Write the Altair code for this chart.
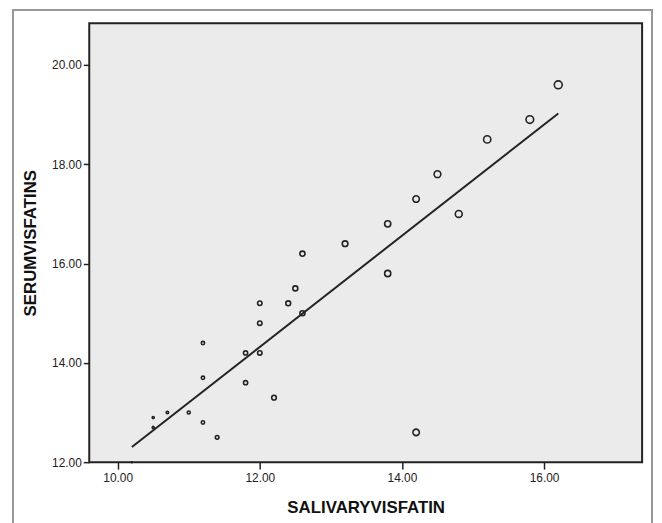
import altair as alt
import pandas as pd

salivary = [10.2, 10.5, 10.5, 10.7, 11.0, 11.2, 11.2, 11.2, 11.4, 11.8, 11.8,
            12.0, 12.0, 12.0, 12.2, 12.4, 12.5, 12.6, 12.6, 13.2, 13.8, 13.8,
            14.2, 14.2, 14.5, 14.8, 15.2, 15.8, 16.2]
serum = [12.0, 12.9, 12.7, 13.0, 13.0, 14.4, 13.7, 12.8, 12.5, 14.2, 13.6,
         14.2, 14.8, 15.2, 13.3, 15.2, 15.5, 15.0, 16.2, 16.4, 15.8, 16.8,
         17.3, 12.6, 17.8, 17.0, 18.5, 18.9, 19.6]
x_ticks = [10, 12, 14, 16]
y_ticks = [12, 14, 16, 18, 20]

df = pd.DataFrame({"SALIVARYVISFATIN": salivary, "SERUMVISFATINS": serum})

xscale = alt.Scale(domain=[9.6, 17.38], nice=False, zero=False)
yscale = alt.Scale(domain=[12, 20.84], nice=False, zero=False)

xaxis = alt.Axis(values=x_ticks, format=".2f", title="SALIVARYVISFATIN",
                 grid=False, domain=False, tickSize=7, tickWidth=1.5,
                 tickColor="#222", labelFont="Liberation Sans", labelFontSize=12,
                 labelColor="#222", labelPadding=4, titleFont="Liberation Sans",
                 titleFontSize=17, titleFontWeight="bold", titleColor="#111",
                 titlePadding=16)
yaxis = alt.Axis(values=y_ticks, format=".2f", title="SERUMVISFATINS",
                 grid=False, domain=False, tickSize=6, tickWidth=1.5,
                 tickColor="#222", labelFont="Liberation Sans", labelFontSize=12,
                 labelColor="#222", labelPadding=2, titleFont="Liberation Sans",
                 titleFontSize=17, titleFontWeight="bold", titleColor="#111",
                 titlePadding=12)

base = alt.Chart(df)

frame = base.mark_rect(fill=None, stroke="#999", strokeWidth=1.2).encode(
    x=alt.value(-77), x2=alt.value(568), y=alt.value(-13), y2=alt.value(520)
)

points = base.mark_point(filled=False, color="#222", strokeWidth=1.6, opacity=1).encode(
    x=alt.X("SALIVARYVISFATIN:Q", scale=xscale, axis=xaxis),
    y=alt.Y("SERUMVISFATINS:Q", scale=yscale, axis=yaxis),
    size=alt.Size("SALIVARYVISFATIN:Q",
                  scale=alt.Scale(domain=[10.2, 16.2], range=[1, 64]),
                  legend=None),
)

line = base.transform_regression("SALIVARYVISFATIN", "SERUMVISFATINS").mark_line(
    color="#222", strokeWidth=2
).encode(
    x=alt.X("SALIVARYVISFATIN:Q", scale=xscale),
    y=alt.Y("SERUMVISFATINS:Q", scale=yscale),
)

chart = alt.layer(frame, points, line).properties(
    width=558, height=443,
    autosize=alt.AutoSizeParams(type="none"),
    padding={"left": 82, "top": 13, "right": 12, "bottom": 60},
    background="white",
).configure_view(
    fill="#ebebeb", stroke="#222", strokeWidth=2
)

chart.save("out.html", embed_options={"renderer": "svg", "actions": False})
